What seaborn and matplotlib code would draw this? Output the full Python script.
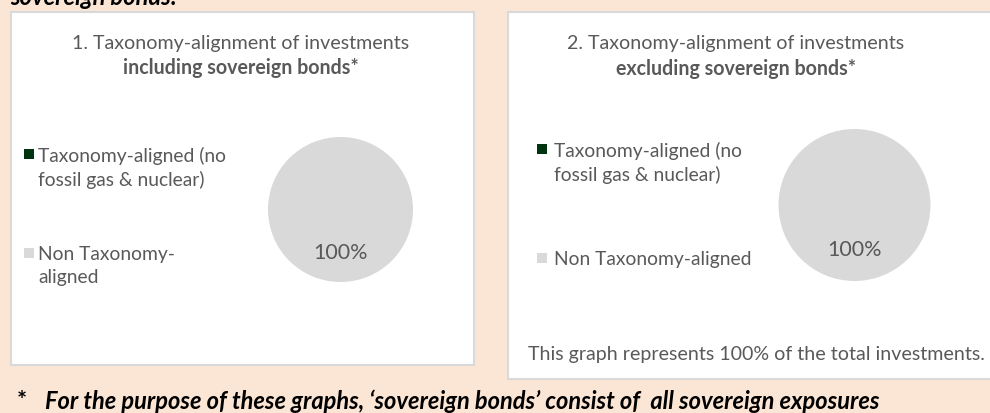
import matplotlib
matplotlib.use("Agg")
import matplotlib.pyplot as plt
from matplotlib.patches import Rectangle
import seaborn as sns

# Data
categories = ["Taxonomy-aligned (no fossil gas & nuclear)", "Non Taxonomy-aligned"]
incl_sovereign = [0, 100]
excl_sovereign = [0, 100]
legend_labels_1 = ["Taxonomy-aligned (no\nfossil gas & nuclear)", "Non Taxonomy-\naligned"]
legend_labels_2 = ["Taxonomy-aligned (no\nfossil gas & nuclear)", "Non Taxonomy-aligned"]
slice_colors = ["#00330f", "#d9d9d9"]

sns.set_theme(style="white")
plt.rcParams["font.family"] = ["Lato", "DejaVu Sans"]

W, H = 990, 414
BG = "#fbe6d5"
TXT = "#595959"
FS = 14.1

fig = plt.figure(figsize=(W / 100, H / 100), dpi=100, facecolor=BG)


def fx(x):
    return x / W


def fy(y):
    return 1 - y / H


def panel(x0, y0, x1, y1):
    ax = fig.add_axes([fx(x0), fy(y1), (x1 - x0) / W, (y1 - y0) / H])
    ax.set_facecolor("white")
    ax.set_xticks([])
    ax.set_yticks([])
    for s in ax.spines.values():
        s.set_color("#d9d9d9")
        s.set_linewidth(1.5)
    return ax


def pie(values, cx, cy, r):
    ax = fig.add_axes([fx(cx - r), fy(cy + r), 2 * r / W, 2 * r / H])
    ax.pie(values, colors=slice_colors, startangle=90, counterclock=False,
           autopct=lambda p: f"{p:.0f}%" if p > 0 else "", pctdistance=0.58,
           textprops=dict(color=TXT, fontsize=15.5),
           wedgeprops=dict(linewidth=0))
    ax.set_xlim(-1, 1)
    ax.set_ylim(-1, 1)
    ax.set_aspect("equal")
    ax.axis("off")
    return ax


def legend(x_sq, x_txt, ys, labels):
    for y, lab, col in zip(ys, labels, slice_colors):
        fig.add_artist(Rectangle((fx(x_sq), fy(y + 5)), 10 / W, 10 / H,
                                 transform=fig.transFigure, facecolor=col,
                                 edgecolor="none"))
        fig.text(fx(x_txt), fy(y - 8), lab, color=TXT, fontsize=13.9,
                 va="top", ha="left", linespacing=1.42)


# Heading running off the top edge
fig.text(fx(10), fy(5), "sovereign bonds:", fontsize=17, fontweight="bold",
         fontstyle="italic", color="black", va="baseline", ha="left")

# Panel 1
panel(11, 13, 474, 366)
fig.text(fx(241), fy(43), "1. Taxonomy-alignment of investments", color=TXT,
         fontsize=FS, ha="center", va="center")
fig.text(fx(241), fy(68), "including sovereign bonds*", color=TXT,
         fontsize=FS, fontweight="bold", ha="center", va="center")
legend(24, 38, [155, 254], legend_labels_1)
pie(incl_sovereign, 340.5, 210.5, 72.5)

# Panel 2
panel(508, 13, 1000, 380)
fig.text(fx(736), fy(43), "2. Taxonomy-alignment of investments", color=TXT,
         fontsize=FS, ha="center", va="center")
fig.text(fx(736), fy(69), "excluding sovereign bonds*", color=TXT,
         fontsize=FS, fontweight="bold", ha="center", va="center")
legend(537, 554, [150, 259], legend_labels_2)
pie(excl_sovereign, 854.5, 206, 76)
fig.text(fx(528), fy(355), "This graph represents 100% of the total investments.",
         color=TXT, fontsize=FS, ha="left", va="center")

# Footnote
fig.text(fx(17), fy(409), "*", fontsize=17, fontweight="bold", color="black",
         va="baseline", ha="left")
fig.text(fx(45), fy(409),
         "For the purpose of these graphs, \u2018sovereign bonds\u2019 consist of  all sovereign exposures",
         fontsize=17, fontweight="bold", fontstyle="italic", color="black",
         va="baseline", ha="left")

fig.savefig("out.png", dpi=100, facecolor=BG)
